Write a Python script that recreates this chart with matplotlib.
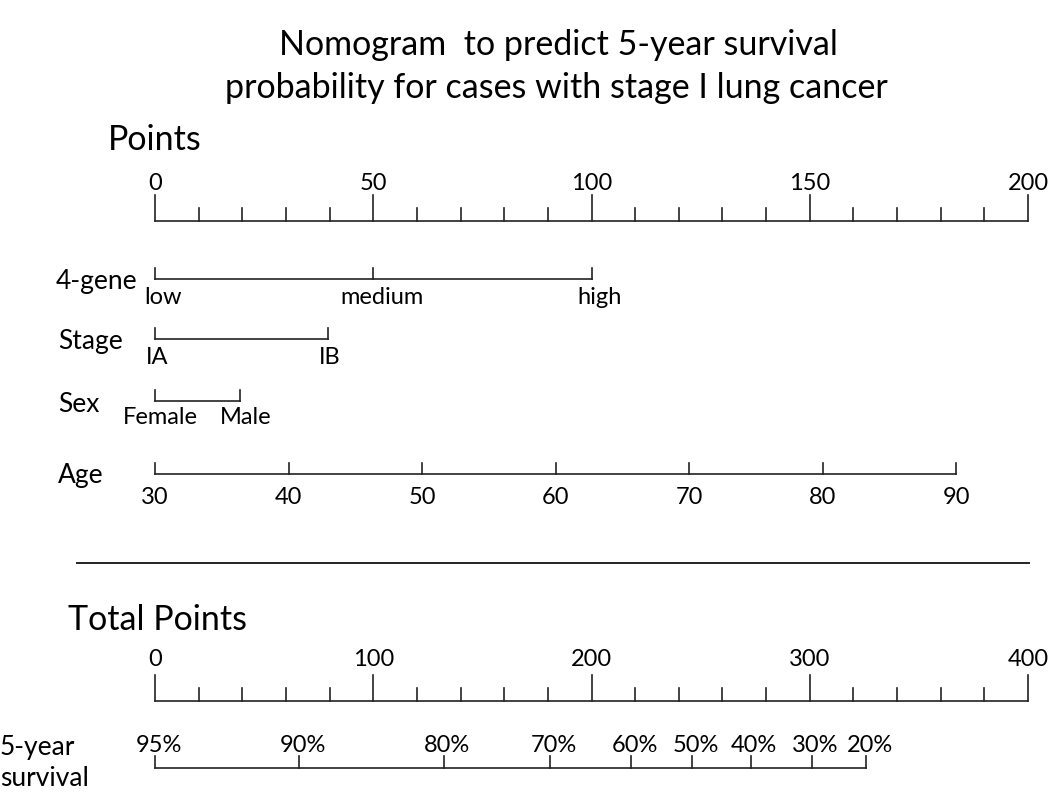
import matplotlib.pyplot as plt
import numpy as np

# nomogram scales (all in "points" units)
points_major = [0, 50, 100, 150, 200]
points_minor = list(range(0, 201, 10))

gene_labels = ['low', 'medium', 'high']
gene_points = [0, 50, 100]

stage_labels = ['IA', 'IB']
stage_points = [0, 39.6]

sex_labels = ['Female', 'Male']
sex_points = [0, 19.5]

age_labels = [30, 40, 50, 60, 70, 80, 90]
age_points = [0, 30.6, 61.2, 91.8, 122.4, 153.0, 183.6]

total_major = [0, 100, 200, 300, 400]
total_minor = list(range(0, 401, 20))

surv_labels = ['95%', '90%', '80%', '70%', '60%', '50%', '40%', '30%', '20%']
surv_total = [0, 66.2, 132.4, 181, 218.3, 246, 273, 301, 326]

plt.rcParams['font.family'] = ['Lato', 'DejaVu Sans']
fig = plt.figure(figsize=(10.5, 7.92), dpi=100)
ax = fig.add_axes([0, 0, 1, 1])
ax.set_xlim(-155 / 4.365, (1050 - 155) / 4.365)
ax.set_ylim(792, 0)
ax.axis('off')

lc = '#222222'
lw = 1.2
tick_fs = 17
row_fs = 19
head_fs = 24.5


def lx(px):
    # label positions given in figure pixels -> points units
    return (px - 155) / 4.365


def scale(y, major, minor, maj_len, min_len, labels, label_y, factor=1.0):
    xs = np.array(minor) / factor
    ax.plot([xs.min(), xs.max()], [y, y], color=lc, lw=lw)
    for v in minor:
        ln = maj_len if v in major else min_len
        ax.plot([v / factor, v / factor], [y, y - ln], color=lc, lw=lw)
    for v, lab in zip(major, labels):
        ax.text(v / factor, label_y, str(lab), ha='center', va='center', fontsize=tick_fs)


def bar(y, pts, labels, label_y, tick=11, shift=0.0):
    ax.plot([min(pts), max(pts)], [y, y], color=lc, lw=lw)
    for p, lab in zip(pts, labels):
        ax.plot([p, p], [y, y - tick], color=lc, lw=lw)
        ax.text(p + shift, label_y, str(lab), ha='center', va='center', fontsize=tick_fs)


# title
ax.text(lx(558), 45, 'Nomogram  to predict 5-year survival',
        ha='center', va='center', fontsize=head_fs)
ax.text(lx(556), 88, 'probability for cases with stage I lung cancer',
        ha='center', va='center', fontsize=head_fs)

# points
ax.text(lx(108), 140, 'Points', ha='left', va='center', fontsize=head_fs)
scale(221, points_major, points_minor, 26, 13, points_major, 183)

ax.text(lx(56), 281, '4-gene', ha='left', va='center', fontsize=row_fs)
bar(279, gene_points, gene_labels, 298, shift=1.9)

ax.text(lx(58), 342, 'Stage', ha='left', va='center', fontsize=row_fs)
bar(339, stage_points, stage_labels, 357, shift=0.4)

ax.text(lx(58), 405, 'Sex', ha='left', va='center', fontsize=row_fs)
bar(401, sex_points, sex_labels, 418, shift=1.2)

ax.text(lx(58), 475, 'Age', ha='left', va='center', fontsize=row_fs)
bar(474, age_points, age_labels, 497)

# separator
ax.plot([lx(77), lx(1029)], [563, 563], color=lc, lw=1.4)

ax.text(lx(68), 620, 'Total Points', ha='left', va='center', fontsize=head_fs)
scale(701, total_major, total_minor, 26, 13, total_major, 660, factor=2.0)

ax.text(lx(0), 748, '5-year', ha='left', va='center', fontsize=row_fs)
ax.text(lx(0), 779, 'survival', ha='left', va='center', fontsize=row_fs)
sx = np.array(surv_total) / 2.0
ax.plot([sx.min(), sx.max()], [768, 768], color=lc, lw=lw)
for p, lab in zip(sx, surv_labels):
    ax.plot([p, p], [768, 756], color=lc, lw=lw)
    ax.text(p + 0.8, 746, lab, ha='center', va='center', fontsize=tick_fs)

fig.savefig('out.png', dpi=100)
